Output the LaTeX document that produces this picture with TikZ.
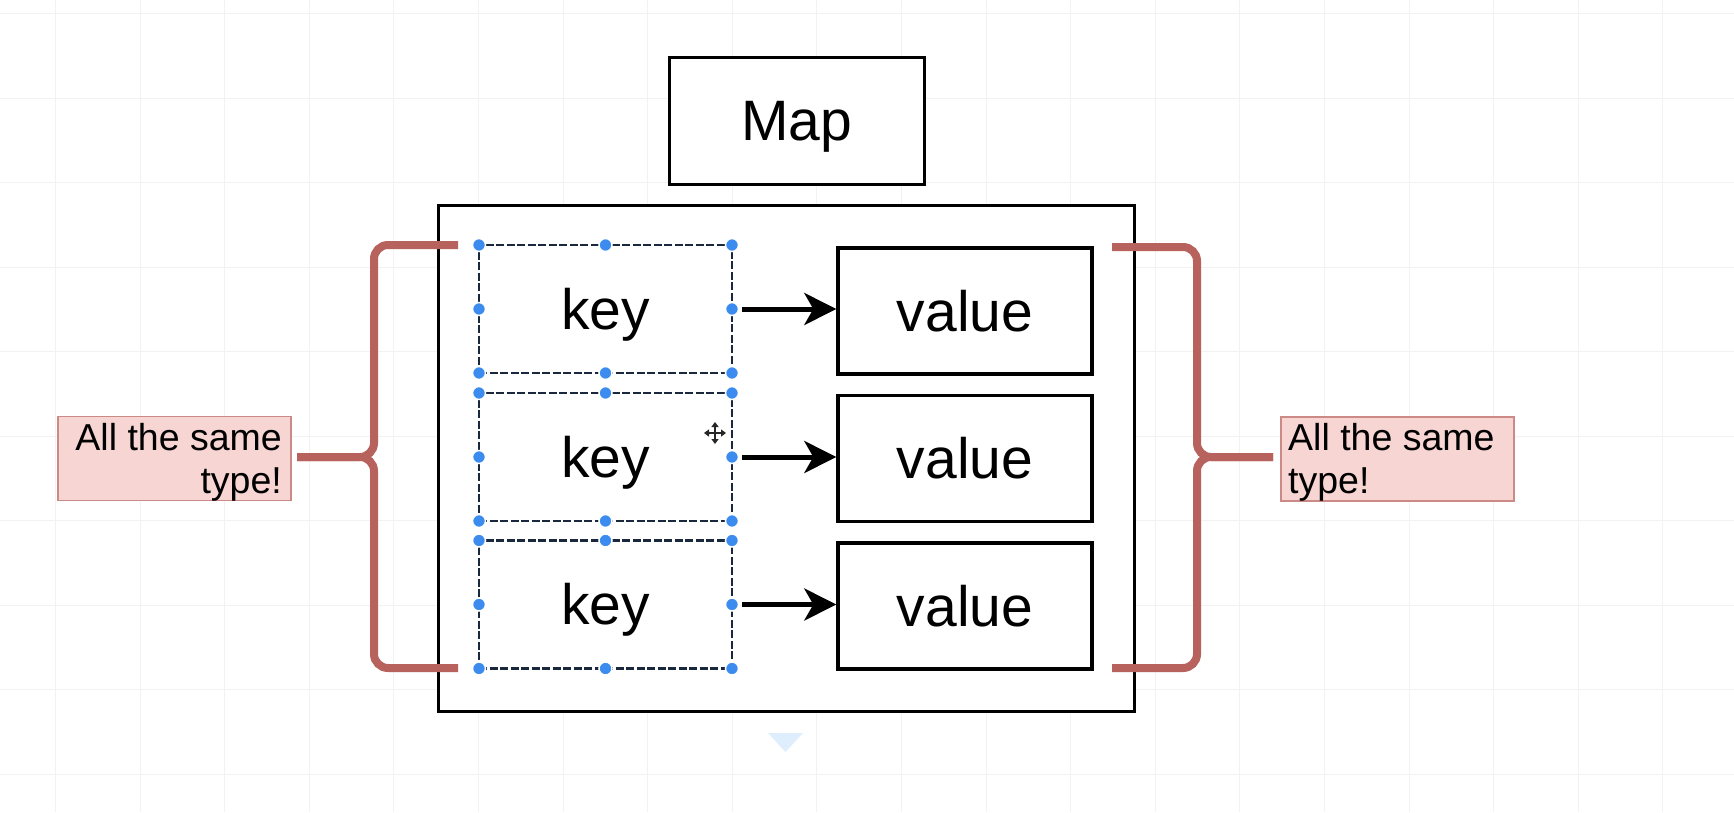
\documentclass[tikz,border=0pt]{standalone}
\usepackage{fontspec}
\setmainfont{Liberation Sans}
\usetikzlibrary{arrows.meta}
\definecolor{bracecol}{RGB}{183,98,92}
\definecolor{notefill}{RGB}{246,213,211}
\definecolor{notedraw}{RGB}{204,138,134}
\definecolor{handlecol}{RGB}{60,140,240}
\definecolor{gridcol}{RGB}{242,242,242}
\definecolor{selcol}{RGB}{25,40,60}
\definecolor{tricol}{RGB}{222,238,252}
\tikzset{
  bigtext/.style={font=\fontsize{57}{68}\selectfont, text height=40pt, text depth=0pt},
  plainbox/.style={draw=black, line width=3.4pt, fill=white, inner sep=0pt, bigtext},
  valbox/.style={plainbox, minimum width=254pt, minimum height=126pt},
  keybox/.style={draw=selcol, line width=2.4pt, dash pattern=on 8pt off 2.5pt, fill=white,
    minimum width=253pt, minimum height=128pt, inner sep=0pt, outer sep=0pt, bigtext},
  notebox/.style={draw=notedraw, line width=1.5pt, fill=notefill, minimum width=233pt,
    minimum height=84pt, inner sep=0pt},
  notetext/.style={inner sep=0pt, font=\fontsize{37.5}{43}\selectfont},
  brace/.style={draw=bracecol, line width=8pt, rounded corners=14pt},
  arrowline/.style={draw=black, line width=5pt, shorten <=10pt,
    -{Stealth[length=32pt, width=32pt, inset=9pt]}},
  handle/.style={fill=handlecol, draw=white, line width=1.5pt},
  gridline/.style={draw=gridcol, line width=1pt}
}
\begin{document}
\begin{tikzpicture}[x=1pt, y=-1pt]
  \fill[white] (0,0) rectangle (1734,812);
  \useasboundingbox (0,0) rectangle (1734,812);
  % background grid
  \foreach \i in {0,...,19} \draw[gridline] ({55.5+84.6*\i},0) -- ({55.5+84.6*\i},812);
  \foreach \j in {0,...,9} \draw[gridline] (0,{13.5+84.5*\j}) -- (1734,{13.5+84.5*\j});

  % title
  \node[plainbox, line width=3pt, minimum width=255pt, minimum height=127pt] (map) at (796.5,120.5) {Map};
  % container
  \node[draw=black, line width=3pt, fill=white, minimum width=696pt, minimum height=506pt, inner sep=0pt] (body) at (786,458) {};

  % keys
  \node[keybox] (k1) at (605.5,309) {key};
  \node[keybox] (k2) at (605.5,457) {key};
  \node[keybox] (k3) at (605.5,604.5) {key};
  % values
  \node[valbox] (v1) at (965,311) {value};
  \node[valbox] (v2) at (965,458.5) {value};
  \node[valbox] (v3) at (965,606) {value};

  % arrows
  \foreach \n in {1,2,3} \draw[arrowline] (k\n.east) -- (k\n.east -| v\n.west);

  % selection handles
  \foreach \n in {1,2,3}
    \foreach \a in {north west,north,north east,west,east,south west,south,south east}
      \filldraw[handle] (k\n.\a) circle (6.5pt);

  % notes
  \node[notebox] (lnote) at (174.5,458.5) {};
  \node[notetext, align=right, anchor=north east] (ltext) at (282,423) {All the same\\type!};
  \node[notebox] (rnote) at (1397.5,459) {};
  \node[notetext, align=left, anchor=north west] (rtext) at (1288,423) {All the same\\type!};

  % braces
  \coordinate (ltip) at (297,457);
  \coordinate (rtip) at (1273,457);
  \draw[brace] (458,245) -| (374,457) -- (ltip);
  \draw[brace] (ltip) -- (374,457) |- (458,668);
  \draw[brace] (1112,247) -| (1197,457) -- (rtip);
  \draw[brace] (rtip) -- (1197,457) |- (1112,668);

  % move cursor
  \draw[line width=2pt, black!85, {Triangle[length=5pt,width=7pt]}-{Triangle[length=5pt,width=7pt]}] (704,433) -- (726,433);
  \draw[line width=2pt, black!85, {Triangle[length=5pt,width=7pt]}-{Triangle[length=5pt,width=7pt]}] (715,422) -- (715,444);

  % faint drop marker
  \fill[tricol] (768,733) -- (803,733) -- (785.5,752) -- cycle;
\end{tikzpicture}
\end{document}
